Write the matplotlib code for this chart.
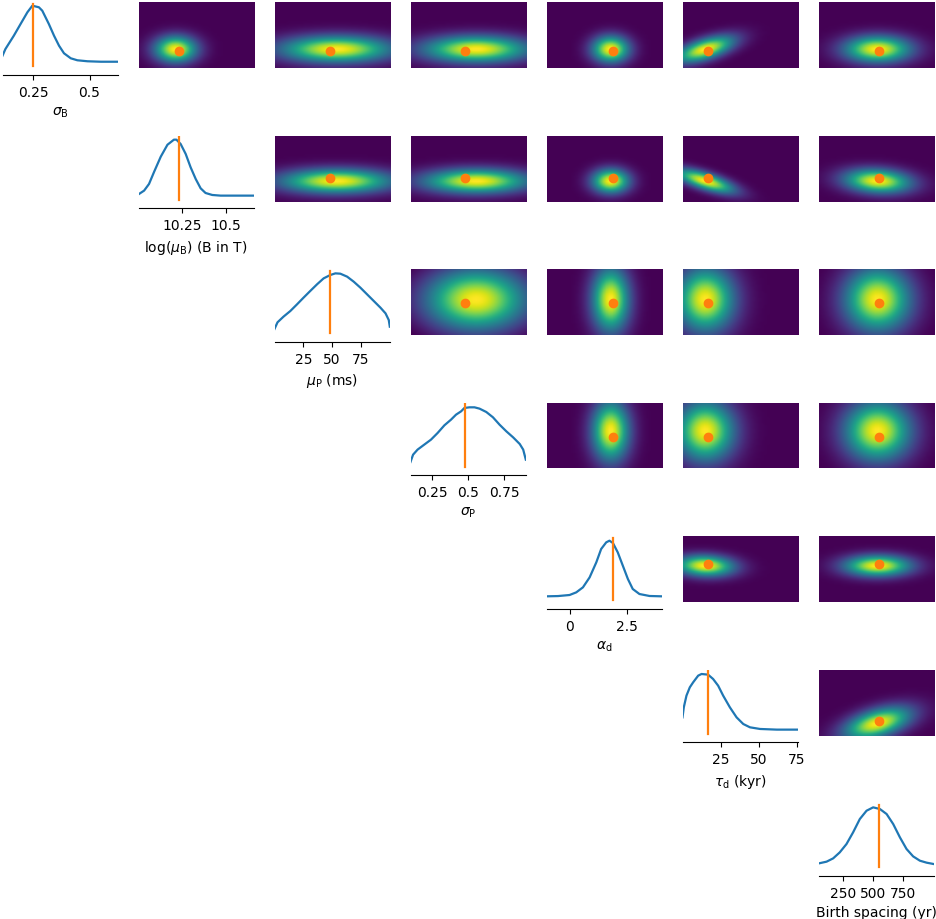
import numpy as np
import matplotlib
matplotlib.use('Agg')
import matplotlib.pyplot as plt

# parameter names / axis labels
labels = [r'$\sigma_\mathrm{B}$', r'log($\mu_\mathrm{B}$) (B in T)', r'$\mu_\mathrm{P}$ (ms)',
          r'$\sigma_\mathrm{P}$', r'$\alpha_\mathrm{d}$', r'$\tau_\mathrm{d}$ (kyr)', 'Birth spacing (yr)']

lows = [0.115, 10.0, 0.0, 0.1, -1.0, 0.0, 45.0]
highs = [0.625, 10.657, 100.0, 0.9, 4.0, 75.7, 1005.0]
truth = [0.25, 10.23, 48.5, 0.48, 1.9, 16.5, 550.0]
ticks = [[0.25, 0.5], [10.25, 10.5], [25, 50, 75], [0.25, 0.5, 0.75],
         [0, 2.5], [25, 50, 75], [250, 500, 750]]
tick_labels = [['0.25', '0.5'], ['10.25', '10.5'], ['25', '50', '75'], ['0.25', '0.5', '0.75'],
               ['0', '2.5'], ['25', '50', '75'], ['250', '500', '750']]

# 1d marginals (height as fraction of panel)
sigB_x = [0.115, 0.128, 0.165, 0.195, 0.225, 0.247, 0.276, 0.291, 0.320, 0.343, 0.365, 0.387,
          0.417, 0.446, 0.491, 0.550, 0.625]
sigB_y = [0.186, 0.288, 0.489, 0.667, 0.844, 0.944, 0.920, 0.868, 0.667, 0.489, 0.338, 0.223,
          0.147, 0.117, 0.102, 0.095, 0.095]

muB_x = [10.003, 10.032, 10.060, 10.089, 10.127, 10.165, 10.202, 10.216, 10.240, 10.269, 10.297,
         10.326, 10.354, 10.382, 10.420, 10.468, 10.657]
muB_y = [0.114, 0.165, 0.266, 0.45, 0.68, 0.86, 0.937, 0.937, 0.872, 0.720, 0.518, 0.341,
         0.200, 0.129, 0.099, 0.089, 0.089]

muP_x = [0.0, 2.6, 7.8, 13.7, 19.5, 25.2, 31.0, 36.9, 42.6, 48.4, 52.8, 57.1, 63.0, 68.7, 74.5,
         80.3, 86.1, 91.9, 96.3, 99.1, 100.0]
muP_y = [0.091, 0.192, 0.278, 0.363, 0.464, 0.566, 0.667, 0.768, 0.858, 0.909, 0.934, 0.929,
         0.884, 0.808, 0.717, 0.616, 0.515, 0.414, 0.328, 0.227, 0.126]

sigP_x = [0.100, 0.118, 0.149, 0.195, 0.242, 0.288, 0.335, 0.381, 0.416, 0.451, 0.474, 0.509,
          0.544, 0.579, 0.626, 0.672, 0.718, 0.765, 0.812, 0.858, 0.882, 0.900]
sigP_y = [0.099, 0.210, 0.286, 0.361, 0.437, 0.538, 0.654, 0.740, 0.816, 0.866, 0.917, 0.927,
          0.927, 0.907, 0.856, 0.776, 0.664, 0.563, 0.472, 0.371, 0.286, 0.134]

alpha_x = [-1.0, -0.5, 0.0, 0.29, 0.58, 0.87, 1.16, 1.37, 1.59, 1.73, 1.88, 2.09, 2.31, 2.53,
           2.74, 3.03, 3.47, 4.0]
alpha_y = [0.086, 0.09, 0.106, 0.146, 0.222, 0.373, 0.601, 0.803, 0.904, 0.929, 0.894, 0.752,
           0.550, 0.348, 0.197, 0.121, 0.091, 0.086]

tau_x = [0.0, 0.86, 2.6, 4.8, 7.0, 10.3, 12.5, 16.8, 20.1, 23.4, 26.7, 31.1, 35.5, 39.9, 44.3,
         50.9, 61.9, 75.7]
tau_y = [0.275, 0.427, 0.604, 0.730, 0.806, 0.907, 0.932, 0.922, 0.856, 0.755, 0.604, 0.427,
         0.275, 0.174, 0.124, 0.099, 0.089, 0.089]

birth_x = [47.5, 112, 167, 222, 278, 333, 389, 445, 500, 556, 612, 667, 723, 778, 833, 889,
           945, 1005]
birth_y = [0.085, 0.111, 0.161, 0.252, 0.378, 0.555, 0.757, 0.883, 0.934, 0.909, 0.833, 0.681,
           0.479, 0.303, 0.191, 0.126, 0.096, 0.075]

curves = [(sigB_x, sigB_y), (muB_x, muB_y), (muP_x, muP_y), (sigP_x, sigP_y),
          (alpha_x, alpha_y), (tau_x, tau_y), (birth_x, birth_y)]

# 2d posterior blobs: centre and spread per parameter, correlation per pair
blob_centre = [0.255, 10.205, 53.0, 0.55, 1.75, 14.0, 530.0]
blob_sd = [0.07, 0.083, 33.0, 0.25, 0.55, 13.0, 190.0]
corr = {(0, 5): 0.6, (1, 5): -0.7, (1, 6): -0.15, (4, 5): -0.1, (5, 6): 0.5}

n = len(labels)
fig = plt.figure(figsize=(9.36, 9.2), dpi=100)
W, H = 936.0, 920.0

for i in range(n):
    for j in range(i, n):
        left = (2.5 + 136 * j) / W
        bottom = 1 - (3 + 133.5 * i + 66) / H
        ax = fig.add_axes([left, bottom, 115.3 / W, 66 / H])
        if i == j:
            cx, cy = curves[i]
            ax.plot(cx, cy, color='#1f77b4', lw=1.6)
            ax.axvline(truth[i], ymin=0.03, ymax=0.975, color='#ff7f0e', lw=1.6)
            ax.set_xlim(lows[i], highs[i])
            ax.set_ylim(0, 1)
            for s in ['left', 'right', 'top']:
                ax.spines[s].set_visible(False)
            ax.spines['bottom'].set_position(('outward', 5))
            ax.set_yticks([])
            ax.set_xticks(ticks[i])
            ax.set_xticklabels(tick_labels[i])
            ax.set_xlabel(labels[i])
        else:
            # x = column parameter, y = row parameter
            gx = np.linspace(lows[j], highs[j], 40)
            gy = np.linspace(lows[i], highs[i], 40)
            X, Y = np.meshgrid(gx, gy)
            dx = (X - blob_centre[j]) / blob_sd[j]
            dy = (Y - blob_centre[i]) / blob_sd[i]
            r = corr.get((i, j), 0.0)
            z = np.exp(-0.5 / (1 - r * r) * (dx * dx - 2 * r * dx * dy + dy * dy))
            ax.imshow(z / z.max(), origin='lower', aspect='auto', cmap='viridis',
                      interpolation='bilinear', extent=[lows[j], highs[j], lows[i], highs[i]])
            ax.plot(truth[j], truth[i], 'o', color='#ff7f0e', ms=6)
            ax.set_xlim(lows[j], highs[j])
            ax.set_ylim(lows[i], highs[i])
            ax.axis('off')

fig.savefig('out.png', dpi=100)
